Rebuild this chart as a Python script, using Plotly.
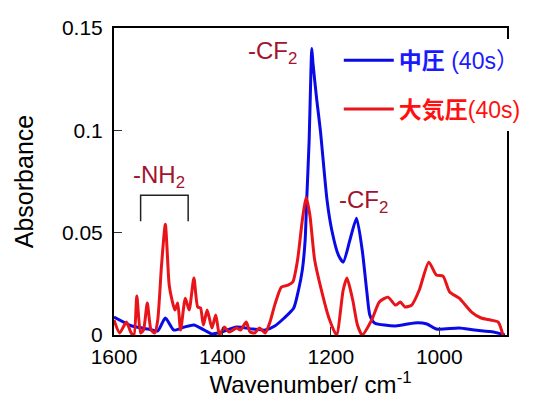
import plotly.graph_objects as go

# Blue series: 中圧 (40s)
wn_mid = [1600, 1566.7, 1536.8, 1519.3, 1505.3, 1489.5, 1470.2, 1452.6, 1436.8, 1419.3,
          1401.8, 1373.7, 1343.9, 1321.1, 1303.5, 1286.0, 1268.4, 1259.6, 1252.6, 1247.4,
          1244.5, 1240.0, 1236.8, 1235.1, 1233.0, 1226.0, 1219.3, 1207.0, 1198.2, 1186.0,
          1177.2, 1164.9, 1152.6, 1142.1, 1133.3, 1128.1, 1119.3, 1080.7, 1045.6, 1022.8,
          1005.3, 963.2, 935.1, 900.0, 879.0]
abs_mid = [0.0088, 0.0044, 0.0029, 0.0020, 0.0083, 0.0024, 0.0039, 0.0049, 0.0029, 0.0005,
           0.0015, 0.0039, 0.0029, 0.0024, 0.0044, 0.0083, 0.0132, 0.0220, 0.0317, 0.0463,
           0.0660, 0.0950, 0.1280, 0.1400, 0.1330, 0.1150, 0.1000, 0.0659, 0.0512, 0.0390,
           0.0356, 0.0463, 0.0571, 0.0415, 0.0205, 0.0098, 0.0059, 0.0044, 0.0059, 0.0054,
           0.0029, 0.0034, 0.0024, 0.0015, 0.0]

# Red series: 大気圧(40s)
wn_atm = [1600, 1589.5, 1577.2, 1568.4, 1563.2, 1557.9, 1550.9, 1545.6, 1538.6, 1531.6,
          1524.6, 1519.3, 1512.3, 1505.3, 1498.2, 1493.0, 1487.7, 1482.5, 1477.2, 1468.4,
          1461.4, 1452.6, 1445.6, 1440.4, 1435.1, 1428.1, 1419.3, 1412.3, 1405.3, 1396.5,
          1387.7, 1373.7, 1366.7, 1356.1, 1349.1, 1340.4, 1331.6, 1321.1, 1312.3, 1303.5,
          1291.2, 1278.9, 1270.2, 1261.4, 1252.6, 1245.6, 1238.6, 1229.8, 1217.5, 1203.5,
          1189.5, 1177.2, 1170.2, 1159.6, 1150.9, 1142.1, 1124.6, 1110.5, 1094.7, 1080.7,
          1071.9, 1063.2, 1050.9, 1036.8, 1019.3, 1005.3, 993.0, 980.7, 963.2, 940.4,
          922.8, 905.3, 891.2, 882.5]
abs_atm = [0.0073, 0.0010, 0.0063, 0.0010, 0.0, 0.0190, 0.0010, 0.0024, 0.0156, 0.0024,
           0.0010, 0.0073, 0.0341, 0.0541, 0.0244, 0.0171, 0.0122, 0.0156, 0.0024, 0.0180,
           0.0122, 0.0278, 0.0137, 0.0132, 0.0049, 0.0122, 0.0034, 0.0098, 0.0, 0.0039,
           0.0015, 0.0034, 0.0024, 0.0063, 0.0015, 0.0010, 0.0034, 0.0010, 0.0063, 0.0146,
           0.0234, 0.0244, 0.0259, 0.0366, 0.0561, 0.0673, 0.0585, 0.0366, 0.0220, 0.0083,
           0.0, 0.0220, 0.0278, 0.0171, 0.0049, 0.0, 0.0073, 0.0161, 0.0185, 0.0146,
           0.0161, 0.0137, 0.0146, 0.0220, 0.0356, 0.0293, 0.0288, 0.0210, 0.0180, 0.0112,
           0.0083, 0.0073, 0.0063, 0.0]

x_ticks = [1600, 1400, 1200, 1000]
y_ticks = [0, 0.05, 0.1, 0.15]
y_tick_labels = ["0", "0.05", "0.1", "0.15"]

FONT = "Liberation Sans, Arial, sans-serif"
CJK = "Liberation Sans, Noto Sans CJK JP, sans-serif"
ANN = "#a3122e"
BLUE = "#0a0ae6"
RED = "#e8141a"

name_mid = ("<span style='color:#1a1aff'><b>中圧</b> (40s"
            "<span style='font-family:Noto Sans CJK JP'>）</span></span>")
name_atm = "<span style='color:#ff1010'><b>大気圧</b>(40s)</span>"

fig = go.Figure()
fig.add_trace(go.Scatter(x=wn_mid, y=abs_mid, mode="lines", name=name_mid,
                         line=dict(color=BLUE, width=3, shape="spline", smoothing=0.6),
                         legendgroup="a"))
fig.add_trace(go.Scatter(x=wn_atm, y=abs_atm, mode="lines", name=name_atm,
                         line=dict(color=RED, width=3, shape="spline", smoothing=0.6),
                         legendgroup="b"))

# the page body keeps its default 8px margin; the figure fills the rest of the window
fig.update_layout(
    width=520, height=391, autosize=False,
    margin=dict(l=106, r=2, t=20, b=64),
    paper_bgcolor="white", plot_bgcolor="white",
    font=dict(family=FONT, size=21, color="black"),
    showlegend=True,
    legend=dict(x=0.572, y=0.965, xanchor="left", yanchor="top",
                bgcolor="white", borderwidth=0, tracegroupgap=16,
                itemwidth=50,
                font=dict(family=CJK, size=23)),
    xaxis=dict(range=[1600, 875], tickvals=x_ticks, ticks="inside", ticklen=8,
               tickcolor="#333", tickwidth=1, showline=True, linecolor="black",
               linewidth=2, mirror=True, showgrid=False, zeroline=False,
               automargin=False, ticklabelstandoff=2,
               tickfont=dict(size=21),
               title=dict(text="Wavenumber/ cm<sup>-1</sup>", font=dict(size=24), standoff=8)),
    yaxis=dict(range=[0, 0.15], tickvals=y_ticks, ticktext=y_tick_labels, ticks="inside",
               ticklen=8, tickcolor="#333", tickwidth=1, showline=True, linecolor="black",
               linewidth=2, mirror=True, showgrid=False, zeroline=False,
               automargin=False, ticklabelstandoff=5,
               tickfont=dict(size=21),
               title=dict(text="Absorbance", font=dict(size=25), standoff=21)),
)

def sub_label(t):
    return t + "<sub>2</sub>"

fig.add_annotation(x=1308, y=0.138, text=sub_label("-CF"), showarrow=False,
                   font=dict(size=24, color=ANN))
fig.add_annotation(x=1139, y=0.065, text=sub_label("-CF"), showarrow=False,
                   font=dict(size=24, color=ANN))
fig.add_annotation(x=1517, y=0.0775, text=sub_label("-NH"), showarrow=False,
                   font=dict(size=24, color=ANN))

fig.add_shape(type="path", path="M 1550.9,0.0556 L 1550.9,0.0683 L 1463.2,0.0683 L 1463.2,0.0556",
              xref="x", yref="y", line=dict(color="#222", width=1.5))

fig.write_html("out.html", config={"responsive": False, "displayModeBar": False})
